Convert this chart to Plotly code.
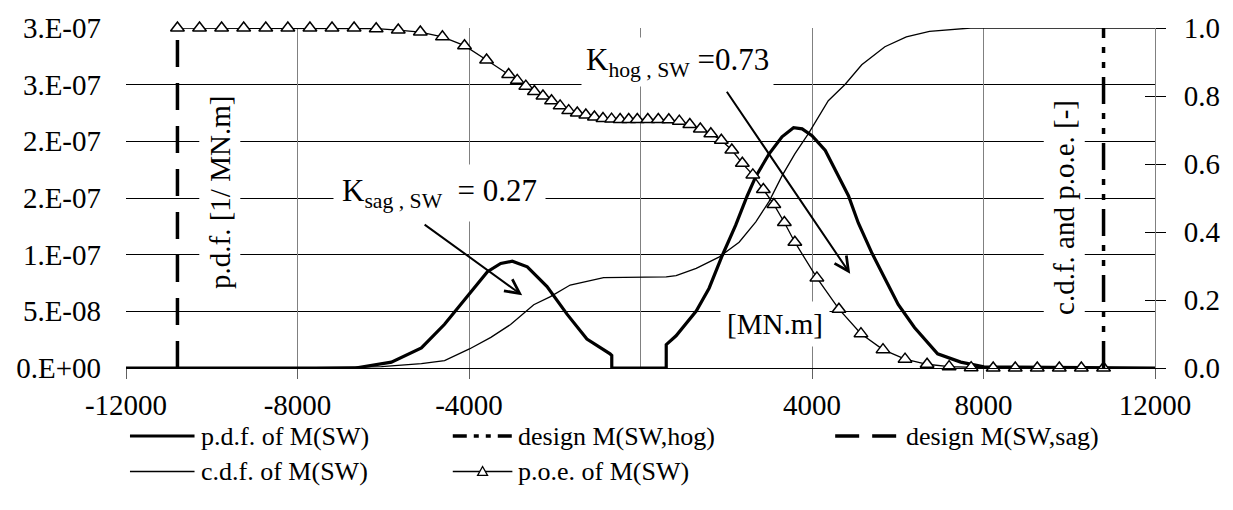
import plotly.graph_objects as go

# ---------------- data ----------------
# p.d.f. of M(SW)  [1/MN.m]
pdf_x = [-12000, -6650, -5810, -5110, -4570, -4110, -3870, -3570, -3260, -2990, -2640,
         -2180, -1710, -1250, -710, -670, -670, 600, 600, 830, 1300, 1600, 1910, 2220,
         2490, 2690, 3000, 3300, 3570, 3770, 4000, 4310, 4540, 4850, 5080, 5390, 5700,
         6010, 6390, 6930, 7470, 8010, 12000]
pdf_y = [0, 0, 5.2e-9, 1.77e-8, 3.86e-8, 6.03e-8, 7.19e-8, 8.5e-8, 9.22e-8, 9.43e-8, 8.93e-8,
         7.19e-8, 4.73e-8, 2.56e-8, 1.25e-8, 1.1e-8, 0, 0, 2.06e-8, 2.84e-8, 5.02e-8, 7.04e-8,
         9.95e-8, 1.26e-7, 1.52e-7, 1.69e-7, 1.89e-7, 2.04e-7, 2.12e-7, 2.11e-7, 2.05e-7,
         1.92e-7, 1.75e-7, 1.52e-7, 1.28e-7, 1.02e-7, 7.9e-8, 5.6e-8, 3.57e-8, 1.25e-8,
         5.2e-9, 1e-9, 0]

# c.d.f. of M(SW)
cdf_x = [-12000, -7970, -6040, -5110, -4570, -3990, -3490, -3030, -2490, -2100, -1640, -860,
         600, 830, 1300, 1840, 2300, 2690, 3000, 3300, 3600, 3920, 4380, 4770, 5160, 5700,
         6200, 6740, 7700, 12000]
cdf_y = [0, 0, 0.004, 0.013, 0.022, 0.056, 0.09, 0.128, 0.186, 0.21, 0.244, 0.266,
         0.268, 0.272, 0.293, 0.327, 0.37, 0.43, 0.49, 0.565, 0.63, 0.69, 0.786, 0.834,
         0.892, 0.945, 0.974, 0.99, 1.0, 1.0]

# p.o.e. of M(SW)
poe_x = [-10800, -10285, -9770, -9255, -8740, -8225, -7710, -7195, -6680, -6165, -5650,
         -5135, -4620, -4105, -3590, -3075, -2875, -2675, -2475, -2275, -2075, -1875,
         -1675, -1475, -1275, -1075, -875, -675, -475, -275, -75, 170, 415, 660, 905,
         1150, 1395, 1640, 1885, 2130, 2375, 2620, 2865, 3110, 3355, 3600, 4114, 4628,
         5142, 5656, 6170, 6684, 7198, 7712, 8226, 8740, 9254, 9768, 10282, 10800]
poe_y = [1.0, 1.0, 1.0, 1.0, 1.0, 1.0, 1.0, 1.0, 1.0, 0.998, 0.994,
         0.988, 0.974, 0.948, 0.906, 0.863, 0.846, 0.829, 0.813, 0.800, 0.786, 0.771,
         0.757, 0.750, 0.744, 0.738, 0.734, 0.732, 0.731, 0.731, 0.731, 0.731, 0.731,
         0.730, 0.726, 0.716, 0.703, 0.689, 0.670, 0.641, 0.602, 0.568, 0.525, 0.481,
         0.428, 0.370, 0.265, 0.173, 0.101, 0.054, 0.026, 0.011, 0.004, 0.001, 0.0,
         0.0, 0.0, 0.0, 0.0, 0.0]

# design values
design_hog_x = [10800, 10800]
design_sag_x = [-10800, -10800]
design_y = [0, 1]

x_tickvals = [-12000, -8000, -4000, 4000, 8000, 12000]
x_ticktext = ["-12000", "-8000", "-4000", "4000", "8000", "12000"]
y_tickvals = [0, 5e-8, 1e-7, 1.5e-7, 2e-7, 2.5e-7, 3e-7]
y_ticktext = ["0.E+00", "5.E-08", "1.E-07", "2.E-07", "2.E-07", "3.E-07", "3.E-07"]
y2_tickvals = [0, 0.2, 0.4, 0.6, 0.8, 1.0]
y2_ticktext = ["0.0", "0.2", "0.4", "0.6", "0.8", "1.0"]

K_sag_text = "K<sub>sag , SW</sub>  = 0.27"
K_hog_text = "K<sub>hog , SW</sub> =0.73"

# arrows (tail -> head), data coordinates (x, right axis)
arrow_sag = dict(tail=(-5070, 0.425), head=(-2760, 0.214))
arrow_hog = dict(tail=(1990, 0.817), head=(4890, 0.277))

FONT = "Liberation Serif"
FS = 29

fig = go.Figure()

fig.add_trace(go.Scatter(x=pdf_x, y=pdf_y, mode="lines", name="p.d.f. of M(SW)",
                         line=dict(color="black", width=3.2), yaxis="y", showlegend=False))
fig.add_trace(go.Scatter(x=cdf_x, y=cdf_y, mode="lines", name="c.d.f. of M(SW)",
                         line=dict(color="black", width=1.3), yaxis="y2", showlegend=False))
fig.add_trace(go.Scatter(x=poe_x, y=poe_y, mode="lines+markers", name="p.o.e. of M(SW)",
                         line=dict(color="black", width=1.3),
                         marker=dict(symbol="triangle-up", size=12, color="white",
                                     line=dict(color="black", width=1.5)),
                         yaxis="y2", showlegend=False, cliponaxis=False))
fig.add_trace(go.Scatter(x=design_sag_x, y=design_y, mode="lines", name="design M(SW,sag)",
                         line=dict(color="black", width=3.5, dash="27px,16px"),
                         yaxis="y2", showlegend=False))
fig.add_trace(go.Scatter(x=design_hog_x, y=design_y, mode="lines", name="design M(SW,hog)",
                         line=dict(color="black", width=3.5, dash="27px,9px,6px,9px,6px,9px"),
                         yaxis="y2", showlegend=False))

L, R, T, B = 126, 71, 23, 142
W, H = 1233, 510
pw, ph = W - L - R, H - T - B


def px(xp):
    return (xp - L) / pw


def py(yp):
    return (H - B - yp) / ph


def txt(x, y, text, size, pad=4, angle=0):
    return dict(x=px(x), y=py(y), xref="paper", yref="paper", text=text,
                textangle=angle, showarrow=False, xanchor="center", yanchor="middle",
                font=dict(family=FONT, size=size, color="black"),
                bgcolor="white", borderpad=pad)


annotations = [
    txt(220, 190, "p.d.f. [1/ MN.m]", FS, pad=4, angle=-90),
    txt(1071, 205, "c.d.f. and p.o.e. [-]", FS, pad=4, angle=-90),
    txt(779, 323, "[MN.m]", FS, pad=6),
    txt(442, 190, K_sag_text, FS + 2, pad=8),
    txt(681, 58, K_hog_text, FS + 2, pad=4),
]
for a in (arrow_sag, arrow_hog):
    annotations.append(dict(x=a["head"][0], y=a["head"][1], xref="x", yref="y2",
                            ax=a["tail"][0], ay=a["tail"][1], axref="x", ayref="y2",
                            text="", showarrow=True, arrowhead=5, arrowsize=1.4,
                            arrowwidth=2, arrowcolor="black", standoff=0, startstandoff=0))

# manual legend (line samples + labels)
LFS = 26
shapes = []
leg_rows = {1: 437, 2: 473}
legend_items = [
    ("p.d.f. of M(SW)", 1, 130, 195, dict(color="black", width=3.2)),
    ("c.d.f. of M(SW)", 2, 130, 195, dict(color="black", width=1.3)),
    ("design M(SW,hog)", 1, 455, 515, dict(color="black", width=3.5, dash="14px,7px,5px,7px,5px,7px")),
    ("p.o.e. of M(SW)", 2, 455, 515, dict(color="black", width=1.3)),
    ("design M(SW,sag)", 1, 840, 905, dict(color="black", width=3.5, dash="24px,13px")),
]
for label, row, x0, x1, ln in legend_items:
    yy = py(leg_rows[row])
    shapes.append(dict(type="line", xref="paper", yref="paper", x0=px(x0), x1=px(x1),
                       y0=yy, y1=yy, line=ln, layer="above"))
    annotations.append(dict(x=px(x1 + 4), y=yy, xref="paper", yref="paper", text=label,
                            xanchor="left", yanchor="middle", showarrow=False,
                            font=dict(family=FONT, size=LFS, color="black")))
# triangle marker in p.o.e. legend sample
tx, ty = 485, leg_rows[2]
shapes.append(dict(type="path", xref="paper", yref="paper",
                   path=f"M {px(tx-5)} {py(ty+4)} L {px(tx+5)} {py(ty+4)} L {px(tx)} {py(ty-5)} Z",
                   fillcolor="white", line=dict(color="black", width=1.3), layer="above"))

fig.update_layout(
    width=W, height=H,
    margin=dict(l=L, r=R, t=T, b=B),
    paper_bgcolor="white", plot_bgcolor="white",
    font=dict(family=FONT, size=FS, color="black"),
    showlegend=False,
    xaxis=dict(range=[-12000, 12000], tickvals=x_tickvals, ticktext=x_ticktext,
               showgrid=False, zeroline=False, showline=True, linecolor="black", linewidth=1,
               ticks="outside", ticklen=10, tickcolor="#606060", tickwidth=1,
               ticklabelstandoff=1, tickfont=dict(family=FONT, size=FS, color="black")),
    yaxis=dict(range=[0, 3e-7], tickvals=y_tickvals, ticktext=y_ticktext,
               showgrid=True, gridcolor="black", gridwidth=1, zeroline=False,
               showline=False, ticks="", ticklabelstandoff=24,
               tickfont=dict(family=FONT, size=FS, color="black")),
    yaxis2=dict(range=[0, 1], overlaying="y", side="right", tickvals=y2_tickvals,
                ticktext=y2_ticktext, showgrid=False, zeroline=False,
                showline=True, linecolor="#808080", linewidth=1,
                ticks="outside", ticklen=10, tickcolor="black", ticklabelstandoff=12,
                tickfont=dict(family=FONT, size=FS, color="black")),
    yaxis3=dict(range=[0, 1], overlaying="y", side="right", tickvals=y2_tickvals,
                showticklabels=False, showgrid=False, zeroline=False, showline=False,
                ticks="inside", ticklen=10, tickcolor="black"),
    xaxis2=dict(range=[-12000, 12000], overlaying="x", side="bottom", dtick=4000, tick0=0,
                showgrid=True, gridcolor="#808080", gridwidth=1, showticklabels=False,
                zeroline=False, showline=False, ticks=""),
    shapes=shapes,
    annotations=annotations,
)
fig.add_trace(go.Scatter(x=[None], y=[None], xaxis="x2", yaxis="y3", showlegend=False,
                         hoverinfo="skip"))

fig.write_html("out.html", config={"displayModeBar": False},
               post_script="document.body.style.margin='0';")
